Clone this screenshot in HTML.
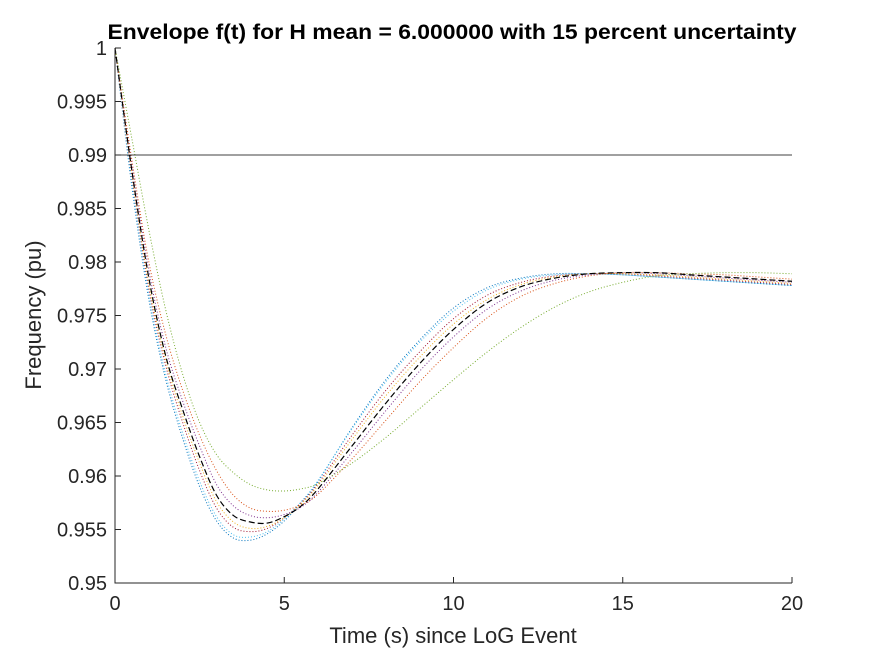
<!DOCTYPE html>
<html><head><meta charset="utf-8"><style>
body{margin:0;background:#fff;}
svg{display:block;font-family:"Liberation Sans",Arial,sans-serif;}
</style></head><body>
<svg id="chart" width="875" height="656" viewBox="0 0 875 656">
<rect width="875" height="656" fill="#fff"/>
<g id="series"></g>
<g id="axes"></g>
<text x="452" y="39" text-anchor="middle" font-size="21.5" font-weight="bold" fill="#000" textLength="689" lengthAdjust="spacingAndGlyphs">Envelope f(t) for H mean = 6.000000 with 15 percent uncertainty</text>
<text x="453" y="643" text-anchor="middle" font-size="22" fill="#262626">Time (s) since LoG Event</text>
<text transform="translate(41,315) rotate(-90)" text-anchor="middle" font-size="22" fill="#262626">Frequency (pu)</text>
</svg>
<script>
const times=[0,0.5,1,1.5,2,2.5,3,3.5,4,4.5,5,5.5,6,7,8,9,10,11,12,13,14,15,16,17,18,19,20];
const sBlue=[1,.987,.9765,.969,.9635,.959,.9558,.9542,.954,.9546,.9558,.9575,.9595,.9645,.969,.9727,.9757,.9776,.9785,.9789,.9789,.9788,.9786,.9784,.9782,.978,.9778];
const sCyan=[1,.9875,.977,.9695,.964,.9595,.9562,.9545,.9543,.9548,.956,.9576,.9596,.9644,.9688,.9725,.9754,.9774,.9784,.9788,.9789,.9788,.9786,.9784,.9782,.978,.9778];
const sRed=[1,.988,.9775,.9703,.965,.9605,.957,.9552,.9548,.9551,.9561,.9575,.9593,.9638,.968,.9716,.9747,.9769,.9781,.9787,.9789,.9789,.9787,.9785,.9783,.9781,.9779];
const sYellow=[1,.9883,.978,.9708,.9656,.9612,.9576,.9557,.9551,.9553,.9561,.9574,.9591,.9634,.9675,.9711,.9742,.9765,.9779,.9786,.9789,.9789,.9788,.9786,.9784,.9782,.978];
const sPurple=[1,.989,.9792,.972,.967,.9628,.9592,.9572,.9563,.9561,.9564,.9571,.9585,.9622,.9661,.9698,.973,.9756,.9773,.9783,.9788,.979,.9789,.9787,.9785,.9783,.9781];
const sOrange=[1,.9895,.98,.9732,.968,.9638,.9605,.9582,.957,.9567,.9568,.9573,.9583,.9616,.9652,.9688,.972,.9748,.9768,.978,.9787,.979,.979,.9789,.9788,.9786,.9784];
const sGreen=[1,.9915,.983,.9755,.9695,.965,.962,.9603,.9592,.9587,.9586,.9588,.9593,.9612,.9636,.9663,.969,.9716,.9739,.9758,.9772,.9781,.9787,.9789,.979,.979,.9789];
const sMean=[1,.9885,.9785,.9712,.9662,.9618,.9582,.9563,.9557,.9556,.9562,.9572,.9588,.9628,.9668,.9705,.9737,.9762,.9777,.9785,.9789,.979,.979,.9788,.9786,.9784,.9782];
const threshold=0.99;
const xTicks=[0,5,10,15,20];
const yTicks=[0.95,0.955,0.96,0.965,0.97,0.975,0.98,0.985,0.99,0.995,1];
const yTickLabels=["0.95","0.955","0.96","0.965","0.97","0.975","0.98","0.985","0.99","0.995","1"];

const X0=115,X1=792,Y0=583,Y1=48;
const xs=t=>X0+(t-0)/(20-0)*(X1-X0);
const ys=v=>Y0-(v-0.95)/(1-0.95)*(Y0-Y1);
const NS="http://www.w3.org/2000/svg";
function pathFor(vals){
  const p=times.map((t,i)=>[xs(t),ys(vals[i])]);
  let d="M"+p[0][0]+","+p[0][1];
  for(let i=0;i<p.length-1;i++){
    const a=p[Math.max(0,i-1)],b=p[i],c=p[i+1],e=p[Math.min(p.length-1,i+2)];
    const c1=[b[0]+(c[0]-a[0])/6,b[1]+(c[1]-a[1])/6];
    const c2=[c[0]-(e[0]-b[0])/6,c[1]-(e[1]-b[1])/6];
    d+=" C"+c1[0]+","+c1[1]+" "+c2[0]+","+c2[1]+" "+c[0]+","+c[1];
  }
  return d;
}
const sg=document.getElementById('series');
const list=[[sBlue,"#0072BD","series-blue"],[sCyan,"#4DBEEE","series-cyan"],[sRed,"#A2142F","series-red"],[sYellow,"#EDB120","series-yellow"],[sPurple,"#7E2F8E","series-purple"],[sOrange,"#D95319","series-orange"],[sGreen,"#77AC30","series-green"]];
list.forEach(([v,c,n])=>{
  const el=document.createElementNS(NS,"path");
  el.setAttribute("d",pathFor(v));
  el.setAttribute("fill","none");el.setAttribute("stroke",c);el.setAttribute("stroke-width","1");
  el.setAttribute("stroke-dasharray","1 2");
  
  
  sg.appendChild(el);
});
const m=document.createElementNS(NS,"path");
m.setAttribute("d",pathFor(sMean));
m.setAttribute("fill","none");m.setAttribute("stroke","#000");m.setAttribute("stroke-width","1.2");
m.setAttribute("stroke-dasharray","6 3");


sg.appendChild(m);
const th=document.createElementNS(NS,"line");
th.setAttribute("x1",X0);th.setAttribute("x2",X1);th.setAttribute("y1",ys(threshold));th.setAttribute("y2",ys(threshold));
th.setAttribute("stroke","#000");th.setAttribute("stroke-width","0.8");


sg.appendChild(th);

const ag=document.getElementById('axes');
const ax=document.createElementNS(NS,"path");
ax.setAttribute("d",`M${X0},${Y1} L${X0},${Y0} L${X1},${Y0}`);
ax.setAttribute("fill","none");ax.setAttribute("stroke","#262626");ax.setAttribute("stroke-width","1");


ag.appendChild(ax);
xTicks.forEach(t=>{
  const l=document.createElementNS(NS,"line");
  l.setAttribute("x1",xs(t));l.setAttribute("x2",xs(t));l.setAttribute("y1",Y0);l.setAttribute("y2",Y0-6);
  l.setAttribute("stroke","#262626");
  
  
  ag.appendChild(l);
  const tx=document.createElementNS(NS,"text");
  tx.setAttribute("x",xs(t));tx.setAttribute("y",Y0+27);tx.setAttribute("text-anchor","middle");
  tx.setAttribute("font-size","20");tx.setAttribute("fill","#262626");tx.textContent=t;
  
  
  ag.appendChild(tx);
});
yTicks.forEach((v,i)=>{
  const l=document.createElementNS(NS,"line");
  l.setAttribute("x1",X0);l.setAttribute("x2",X0+6);l.setAttribute("y1",ys(v));l.setAttribute("y2",ys(v));
  l.setAttribute("stroke","#262626");
  
  
  ag.appendChild(l);
  const tx=document.createElementNS(NS,"text");
  tx.setAttribute("x",X0-8);tx.setAttribute("y",ys(v)+7);tx.setAttribute("text-anchor","end");
  tx.setAttribute("font-size","20");tx.setAttribute("fill","#262626");tx.textContent=yTickLabels[i];
  
  
  ag.appendChild(tx);
});
</script>
</body></html>
